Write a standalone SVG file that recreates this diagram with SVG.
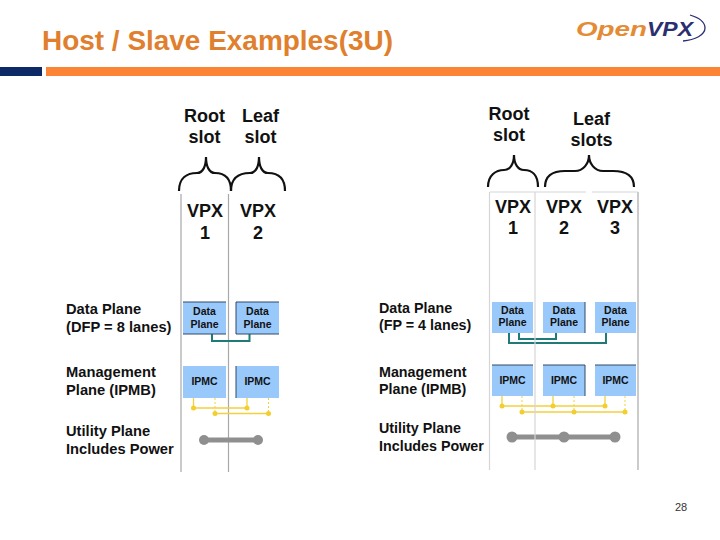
<svg xmlns="http://www.w3.org/2000/svg" width="720" height="540" viewBox="0 0 720 540">
<style>
text{font-family:"Liberation Sans",Arial,sans-serif;fill:#111}
.h{font-size:18px;font-weight:bold;text-anchor:middle}
.l{font-size:14.7px;font-weight:bold}
.r{font-size:14.3px;font-weight:bold}
.b{font-size:10.5px;font-weight:bold;text-anchor:middle}
.box{fill:#99c8fa}
.edge{fill:none;stroke:#2f4a6a;stroke-width:1}
.slot{stroke:#a8a8a8;stroke-width:1.2;fill:none}
.slot2{stroke:#d6d6d6;stroke-width:1.2;fill:none}
.brace{fill:none;stroke:#111;stroke-width:2.2}
.teal{fill:none;stroke:#1f7a78;stroke-width:2}
.y{fill:none;stroke:#f2d13c;stroke-width:1.3}
.yd{fill:none;stroke:#f2d13c;stroke-width:1;stroke-dasharray:2 2}
.yc{fill:#f2cf2e}
.g{stroke:#8f8f8f;stroke-width:5;fill:none}
.gc{fill:#8f8f8f}
</style>
<rect width="720" height="540" fill="#fff"/>
<text x="42" y="50" style="font-size:28px;font-weight:bold;fill:#e07f2e" textLength="351" lengthAdjust="spacingAndGlyphs">Host / Slave Examples(3U)</text>
<rect x="0" y="67" width="42" height="9" fill="#0d2a66"/>
<rect x="46" y="67" width="674" height="9" fill="#fb8436"/>
<g id="logo">
<text x="576" y="36" style="font-size:21px;font-weight:bold;font-style:italic;fill:#e58a35" textLength="71" lengthAdjust="spacingAndGlyphs">Open</text>
<text x="647" y="36" style="font-size:21px;font-weight:bold;font-style:italic;fill:#2b2f70" textLength="46" lengthAdjust="spacingAndGlyphs">VPX</text>
<path d="M690,15C700,18 705,23 705,28C705,35 695,40 683,41" fill="none" stroke="#2b2f70" stroke-width="1.3"/>
</g>
<g id="left-slots">
<path class="slot" d="M181,194V472M228.500,194V472"/>
<path class="brace" d="M179,191C179,178 187,173 197,173C203,173 206,166 206,157C206,166 209,173 215,173C225,173 231,178 231,191"/>
<path class="brace" d="M231,191C231,178 239,173 250,173C256,173 259,166 259,157C259,166 262,173 268,173C278,173 285,178 285,191"/>
<text class="h" x="204.500" y="122">Root</text><text class="h" x="204.500" y="143">slot</text>
<text class="h" x="260.500" y="122">Leaf</text><text class="h" x="260.500" y="143">slot</text>
<text class="h" x="205" y="217">VPX</text><text class="h" x="205" y="239">1</text>
<text class="h" x="258" y="217">VPX</text><text class="h" x="258" y="239">2</text>
</g>
<g id="left-labels">
<text class="l" x="66" y="314">Data Plane</text><text class="l" x="66" y="332">(DFP = 8 lanes)</text>
<text class="l" x="66" y="377">Management</text><text class="l" x="66" y="395">Plane (IPMB)</text>
<text class="l" x="66" y="436">Utility Plane</text><text class="l" x="66" y="454">Includes Power</text>
</g>
<g id="connectors">
<path class="teal" d="M212,334V341H249.500V334"/>
<path class="y" d="M193.500,398V408M247,398V408M193.500,408H247M215,413.500H268.500"/>
<path class="yd" d="M215,398V413M268.500,398V413"/>
<path class="g" d="M204,440H258"/>
<path class="teal" d="M509,333V343H606V333"/>
<path class="teal" d="M519,333V339H556V333"/>
<path class="y" d="M502,396V406M553,396V406M605,396V406M502,406H605M522,412H625"/>
<path class="yd" d="M522,396V412M574,396V412M625,396V412"/>
<path class="g" d="M512,437H615"/>
</g>
<g class="yc"><circle cx="193.500" cy="408" r="2.500"/><circle cx="247" cy="408" r="2.500"/><circle cx="215" cy="413.500" r="2.500"/><circle cx="268.500" cy="413.500" r="2.500"/>
<circle cx="502" cy="406" r="2.500"/><circle cx="553" cy="406" r="2.500"/><circle cx="605" cy="406" r="2.500"/><circle cx="522" cy="412" r="2.500"/><circle cx="574" cy="412" r="2.500"/><circle cx="625" cy="412" r="2.500"/></g>
<g class="gc"><circle cx="204" cy="440" r="5"/><circle cx="258" cy="440" r="5"/><circle cx="512" cy="437" r="5.500"/><circle cx="564" cy="437" r="5.500"/><circle cx="615" cy="437" r="5.500"/></g>
<g id="l-data-1"><rect class="box" x="183" y="302" width="43" height="32"/><path class="edge" d="M183,302H226M183,334H226"/><text class="b" x="204.500" y="315">Data</text><text class="b" x="204.500" y="328">Plane</text></g>
<g id="l-data-2"><rect class="box" x="236" y="302" width="43" height="32"/><path class="edge" d="M279,302H236V334H279"/><text class="b" x="257.500" y="315">Data</text><text class="b" x="257.500" y="328">Plane</text></g>
<g id="l-ipmc-1"><rect class="box" x="183" y="366" width="43" height="32"/><text class="b" x="204.500" y="385">IPMC</text></g>
<g id="l-ipmc-2"><rect class="box" x="236" y="366" width="43" height="32"/><path class="edge" d="M236,366V398"/><text class="b" x="257.500" y="385">IPMC</text></g>
<g id="right-slots">
<path class="slot2" d="M489.500,192V470M535,192V470"/>
<path class="slot" d="M638,192V470"/>
<path class="slot2" d="M490,192H586M592,192H638"/>
<path class="brace" d="M488,187C488,175 496,170 504,170C510,170 514,164 514,155C514,164 518,170 524,170C532,170 538,175 538,187"/>
<path class="brace" d="M545,187C545,175 553,171 565,171H575C583,171 589,164 589,155C589,164 595,171 603,171H613C626,171 634,175 634,187"/>
<text class="h" x="509" y="120">Root</text><text class="h" x="509" y="141">slot</text>
<text class="h" x="591.500" y="125">Leaf</text><text class="h" x="591.500" y="146">slots</text>
<text class="h" x="513" y="213">VPX</text><text class="h" x="513" y="234">1</text>
<text class="h" x="564" y="213">VPX</text><text class="h" x="564" y="234">2</text>
<text class="h" x="615" y="213">VPX</text><text class="h" x="615" y="234">3</text>
</g>
<g id="right-labels">
<text class="r" x="379" y="313">Data Plane</text><text class="r" x="379" y="330">(FP = 4 lanes)</text>
<text class="r" x="379" y="377">Management</text><text class="r" x="379" y="394">Plane (IPMB)</text>
<text class="r" x="379" y="433">Utility Plane</text><text class="r" x="379" y="451">Includes Power</text>
</g>
<g id="r-data-1"><rect class="box" x="492" y="302" width="41" height="31"/><text class="b" x="512.500" y="314">Data</text><text class="b" x="512.500" y="326">Plane</text></g>
<g id="r-data-2"><rect class="box" x="543" y="302" width="42" height="31"/><path class="edge" d="M585,302V333"/><text class="b" x="564" y="314">Data</text><text class="b" x="564" y="326">Plane</text></g>
<g id="r-data-3"><rect class="box" x="595" y="302" width="41" height="31"/><text class="b" x="615.500" y="314">Data</text><text class="b" x="615.500" y="326">Plane</text></g>
<g id="r-ipmc-1"><rect class="box" x="492" y="365" width="41" height="31"/><path class="edge" d="M492,365H533"/><text class="b" x="512.500" y="384">IPMC</text></g>
<g id="r-ipmc-2"><rect class="box" x="543" y="365" width="42" height="31"/><path class="edge" d="M543,365H585V396"/><text class="b" x="564" y="384">IPMC</text></g>
<g id="r-ipmc-3"><rect class="box" x="595" y="365" width="41" height="31"/><path class="edge" d="M595,365H636"/><text class="b" x="615.500" y="384">IPMC</text></g>
<text x="681" y="511" style="font-size:11px;fill:#333;text-anchor:middle">28</text>
</svg>
